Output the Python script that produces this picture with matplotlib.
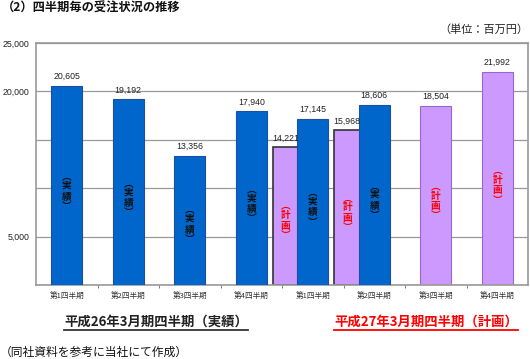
import matplotlib
matplotlib.use("Agg")
import matplotlib.pyplot as plt
from matplotlib.lines import Line2D

JP = ['Noto Sans CJK JP', 'DejaVu Sans']
NUM = ['Liberation Sans', 'DejaVu Sans']
plt.rcParams['font.family'] = JP

quarters = ['第1四半期', '第2四半期', '第3四半期', '第4四半期',
            '第1四半期', '第2四半期', '第3四半期', '第4四半期']
actual = [20605, 19192, 13356, 17940, 17145, 18606, None, None]
plan = [None, None, None, None, 14221, 15968, 18504, 21992]
ytick_vals = [0, 5000, 10000, 15000, 20000, 25000]
ytick_labels = ['', '5,000', '', '', '20,000', '25,000']

BLUE = '#0066CC'
PURPLE = '#CC99FF'

fig = plt.figure(figsize=(5.30, 3.59), dpi=100)
ax = fig.add_axes([36/530, 1-285/359, 492/530, 242/359])


def vlabel(xc, yc, word, color):
    chars = ['︵', word[0], word[1], '︶']
    offs = [10.5, 3.8, -3.8, -10.5]
    for ch, o in zip(chars, offs):
        ax.annotate(ch, (xc, yc), xytext=(0, o), textcoords='offset points',
                    ha='center', va='center', fontsize=7, color=color,
                    fontweight='bold', zorder=5)


x = list(range(len(quarters)))
for i in x:
    a, p = actual[i], plan[i]
    if p is not None:
        if a is not None:
            ax.bar(i - 0.44, p, width=0.42, color=PURPLE, edgecolor='#333333',
                   linewidth=1.2, zorder=2)
            px = i - 0.44
        else:
            ax.bar(i, p, width=0.5, color=PURPLE, edgecolor='#9966CC',
                   linewidth=0.8, zorder=2)
            px = i
        ax.text(px, p + 500, f'{p:,}', ha='center', va='bottom', fontsize=6.3,
                family=NUM, color='#222222', zorder=5)
        vlabel(px, p * 0.47, '計画', '#FF0000')
    if a is not None:
        ax.bar(i, a, width=0.5, color=BLUE, edgecolor='#1F4E9A',
               linewidth=0.8, zorder=3)
        ax.text(i, a + 500, f'{a:,}', ha='center', va='bottom', fontsize=6.3,
                family=NUM, color='#222222', zorder=5)
        vlabel(i, a * 0.47, '実績', '#111111')

ax.set_xlim(-0.5, len(quarters) - 0.5)
ax.set_ylim(0, 25000)
ax.set_yticks(ytick_vals)
ax.set_yticklabels(ytick_labels, fontsize=6.3, family=NUM, color='#222222')
ax.tick_params(axis='y', length=0, pad=5)
ax.set_xticks(x)
ax.set_xticklabels(quarters, fontsize=5.5, color='#333333')
ax.tick_params(axis='x', length=0, pad=5)
ax.set_xticks([i + 0.5 for i in x[:-1]], minor=True)
ax.tick_params(axis='x', which='minor', length=2, color='#666666', direction='out')
ax.yaxis.grid(True, color='#999999', linewidth=0.9, zorder=0)
ax.set_axisbelow(True)
for s in ax.spines.values():
    s.set_color('#999999')
    s.set_linewidth(1.2)

fig.text(2/530, 1-8/359, '（2）四半期毎の受注状況の推移', fontsize=8.8,
         fontweight='bold', va='center', ha='left', color='#111111')
fig.text(528/530, 1-30/359, '（単位：百万円）', fontsize=8, va='center',
         ha='right', color='#222222')
fig.text(0/530, 1-352/359, '（同社資料を参考に当社にて作成）', fontsize=8.5,
         va='center', ha='left', color='#111111')

t1 = fig.text(156/530, 1-322/359, '平成26年3月期四半期（実績）', fontsize=9.6,
              fontweight='bold', va='center', ha='center', color='#222222')
t2 = fig.text(426/530, 1-322/359, '平成27年3月期四半期（計画）', fontsize=9.6,
              fontweight='bold', va='center', ha='center', color='#FF0000')

fig.canvas.draw()
r = fig.canvas.get_renderer()
for t, c in [(t1, '#333333'), (t2, '#FF0000')]:
    bb = t.get_window_extent(r)
    y = (bb.y0 - 1) / fig.bbox.height
    fig.add_artist(Line2D([bb.x0 / fig.bbox.width, bb.x1 / fig.bbox.width], [y, y],
                          color=c, linewidth=1.3))

fig.savefig('out.png', dpi=100)
